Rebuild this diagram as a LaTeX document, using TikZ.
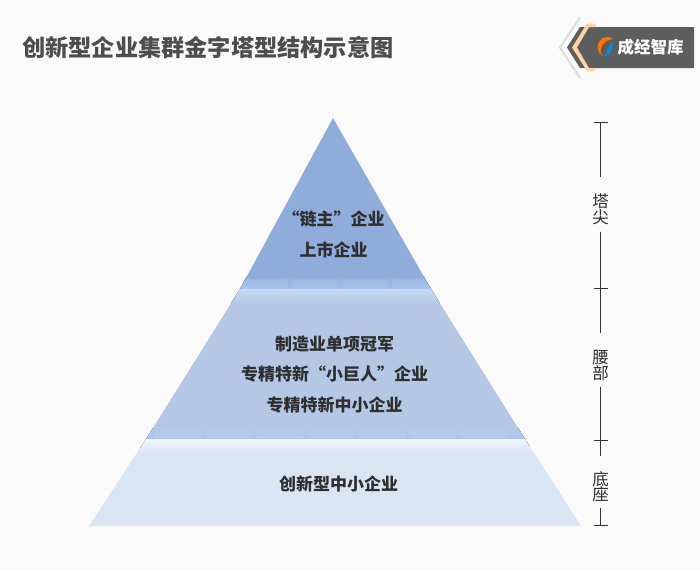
\documentclass[tikz,border=0pt]{standalone}
\usepackage{fontspec}
\usepackage{xcolor}
\setmainfont{Noto Sans CJK SC}
\usetikzlibrary{positioning}
\definecolor{pagebg}{HTML}{FAFAFA}
\definecolor{tiertop}{HTML}{8FACDA}
\definecolor{tiermid}{HTML}{B4C8E5}
\definecolor{tierbase}{HTML}{DAE5F3}
\definecolor{bandtop}{HTML}{A3C1EE}
\definecolor{bandmid}{HTML}{C8DAF5}
\definecolor{bandlow}{HTML}{ABC6ED}
\definecolor{bandbase}{HTML}{EEF5FC}
\definecolor{inktext}{HTML}{2E2E2E}
\definecolor{logogrey}{HTML}{5C5D5D}
\tikzset{%
	tier/.style     = {draw=none}, % Pyramid layer
	tierlabel/.style= {text=inktext, font=\fontsize{17}{18}\selectfont\bfseries, inner sep=0pt, align=center},
	sidelabel/.style= {text=inktext, font=\fontsize{16.5}{16.5}\selectfont, inner sep=0pt, align=center},
	rule/.style     = {draw=black!80, line width=0.8pt},
	glow/.style     = {draw=none, fill=white, fill opacity=0.07, rounded corners=3pt},
}
\begin{document}
\begin{tikzpicture}[x=1pt,y=-1pt,node distance=30.5pt]
	\useasboundingbox[fill=pagebg] (0,0) rectangle (700,571);
	% pyramid
	\fill[tier,tierbase] (146,439) -- (525,439) -- (581,526) -- (89,526) -- cycle;
	\fill[tier,tiermid] (240,289) -- (431,289) -- (525,439) -- (146,439) -- cycle;
	\fill[tier,tiertop] (333,118) -- (431,289) -- (240,289) -- cycle;
	% light bands along the layer edges
	\begin{scope}
		\clip (333,118) -- (431,289) -- (240,289) -- cycle;
		\fill[top color=tiertop,bottom color=bandtop] (230,276) rectangle (440,289);
		\foreach \xa in {242,292,342,392} \fill[glow] (\xa,279) rectangle ++(46,10);
	\end{scope}
	\begin{scope}
		\clip (240,289) -- (431,289) -- (525,439) -- (146,439) -- cycle;
		\fill[top color=bandmid,bottom color=tiermid] (230,289) rectangle (440,303);
		\fill[top color=tiermid,bottom color=bandlow] (140,428) rectangle (530,439);
		\foreach \xa in {154,205,256,307,358,409,460} \fill[glow] (\xa,430) rectangle ++(48,9);
	\end{scope}
	\begin{scope}
		\clip (146,439) -- (525,439) -- (581,526) -- (89,526) -- cycle;
		\fill[top color=bandbase,bottom color=tierbase] (140,439) rectangle (530,454);
	\end{scope}
	% layer texts
	\node [tierlabel] (chain) at (333.5,219) {“链主”企业};
	\node [tierlabel] (listed) [below of=chain] {上市企业};
	\node [tierlabel] (champion) at (334.5,344) {制造业单项冠军};
	\node [tierlabel] (giant) [below of=champion] {专精特新“小巨人”企业};
	\node [tierlabel] (small) [below of=giant] {专精特新中小企业};
	\node [tierlabel] (innov) at (338.5,484) {创新型中小企业};
	% scale on the right
	\coordinate (t0) at (600.5,122);
	\coordinate (t1) at (600.5,288);
	\coordinate (t2) at (600.5,440);
	\coordinate (t3) at (600.5,525);
	\node [sidelabel] (tip) at (600.5,209) {塔\\[-1pt]尖};
	\node [sidelabel] (waist) at (600.5,365.5) {腰\\[-1pt]部};
	\node [sidelabel] (base) at (600.5,486.5) {底\\[-1pt]座};
	\draw[rule] (t0) -- ([yshift=16pt]tip.north);
	\draw[rule] ([yshift=-7pt]tip.south) -- ([yshift=17pt]waist.north);
	\draw[rule] ([yshift=-6pt]waist.south) -- ([yshift=15pt]base.north);
	\draw[rule] ([yshift=-6pt]base.south) -- (t3);
	\foreach \p in {t0,t1,t2,t3} \draw[rule] ([xshift=-7pt]\p) -- ([xshift=7pt]\p);
	% title
	\node [text=inktext!85!white,font=\fontsize{23.2}{24}\selectfont\bfseries,anchor=west,inner sep=0pt] (title) at (22,48) {创新型企业集群金字塔型结构示意图};
	% badge
	\draw[black!13,line width=2.2pt,line join=miter] (580,17.5) -- (560,47.5) -- (580,78);
	\fill[logogrey] (580,27) -- (694,27) -- (694,68) -- (580,68) -- (567,47.5) -- cycle;
	\fill[orange!35] (587,23.5) -- (594,23.5) -- (597,27) -- (589,27) -- (577,47.5) -- (589,68) -- (597,68) -- (594,71) -- (587,71) -- (572,47.5) -- cycle;
	\fill[orange!90!red] (603,38) .. controls (609,36) and (612,38) .. (613,39) .. controls (608,40) and (604,41) .. (601,48) .. controls (600,52) and (601,55) .. (603,56) .. controls (597,53) and (595,43) .. (603,38) -- cycle;
	\fill[cyan!70!blue] (612,41) .. controls (614,47) and (612,55) .. (604,57) .. controls (603,55) and (607,55) .. (607,50) .. controls (607,47) and (610,46) .. (612,41) -- cycle;
	\node [text=white,font=\fontsize{16.5}{17}\selectfont\bfseries,inner sep=0pt,anchor=west] (brand) at (617.5,47) {成经智库};
\end{tikzpicture}
\end{document}
